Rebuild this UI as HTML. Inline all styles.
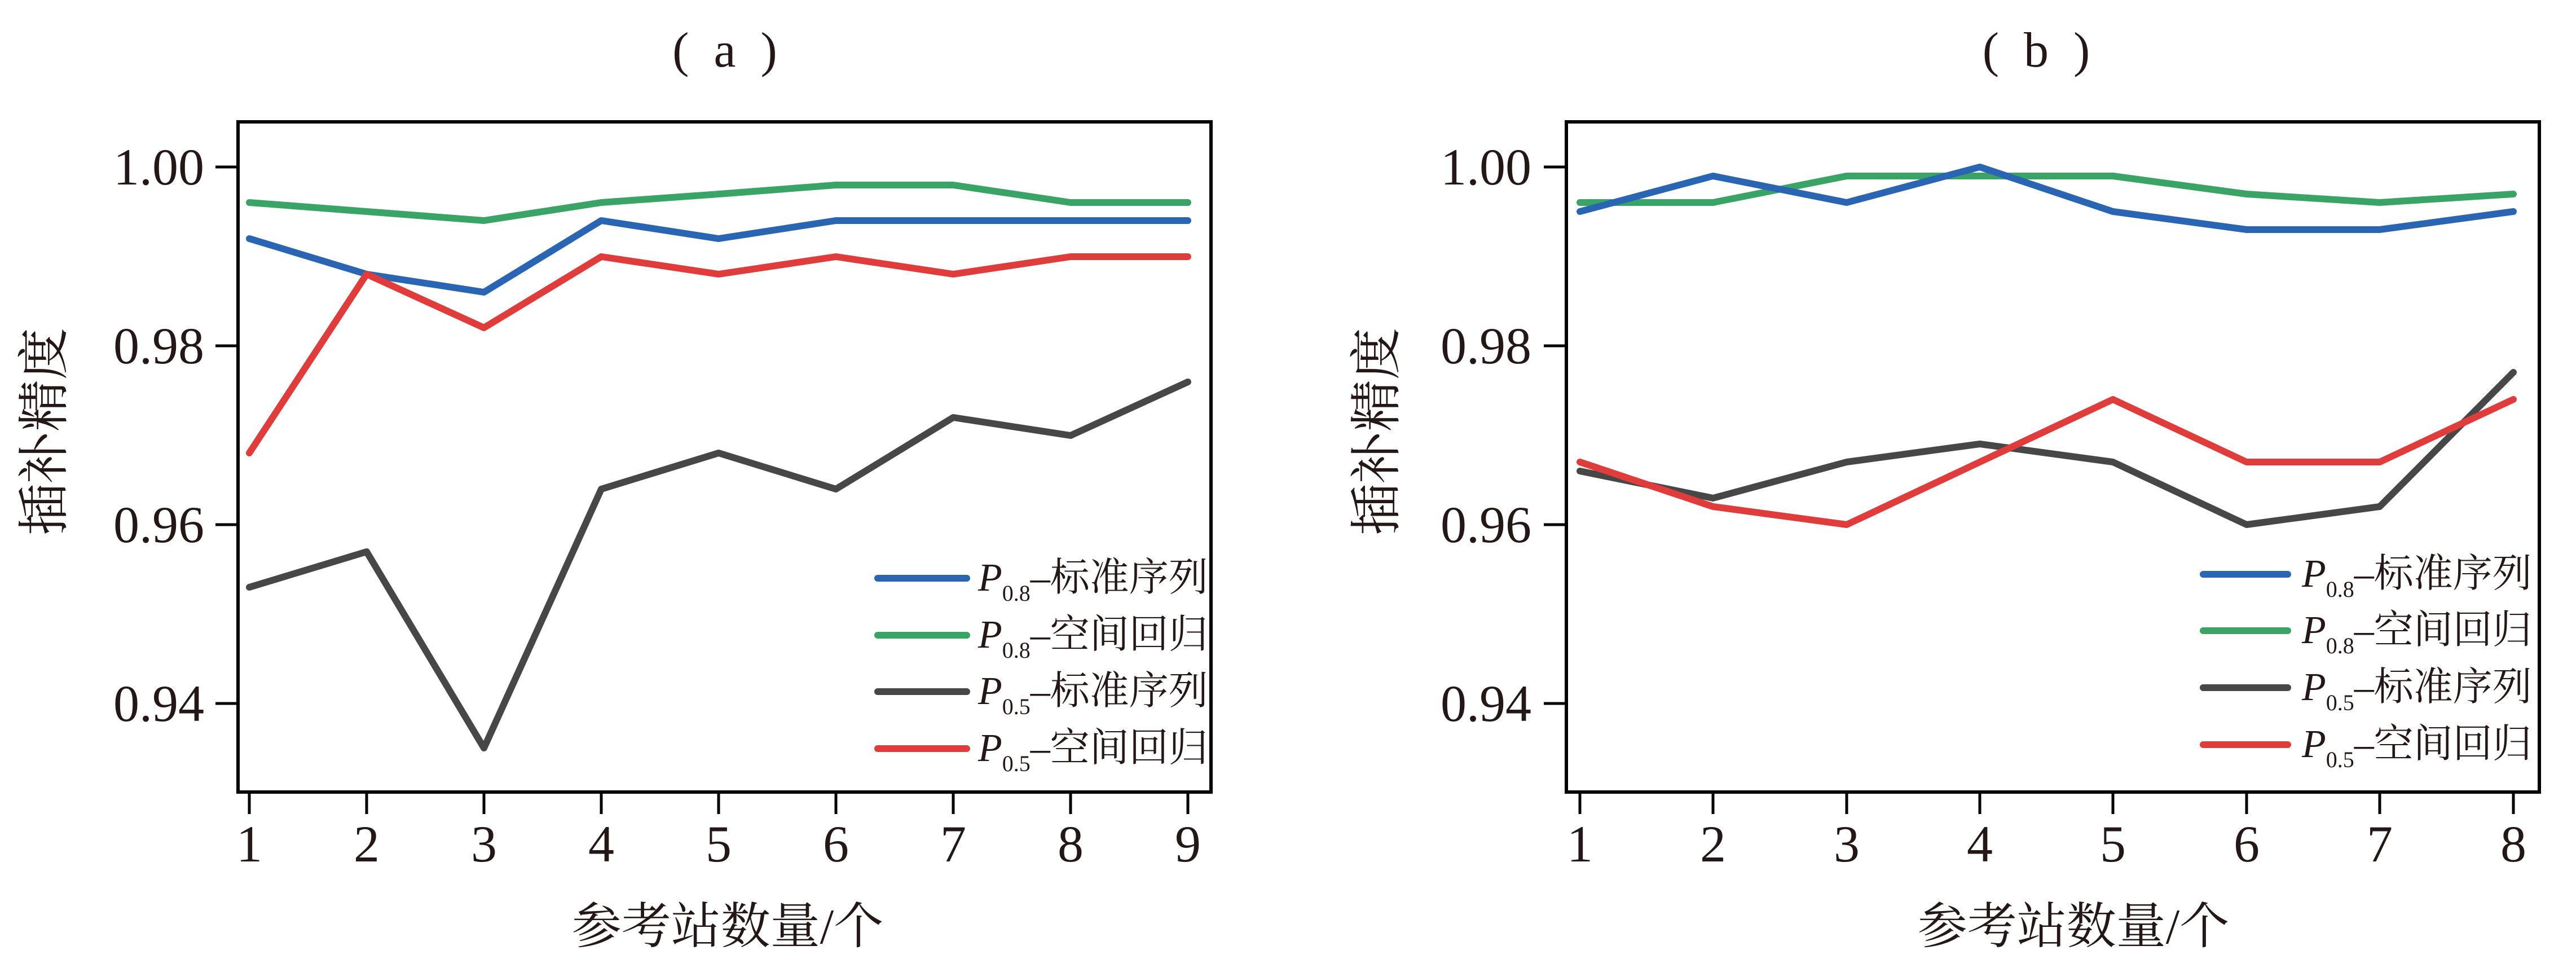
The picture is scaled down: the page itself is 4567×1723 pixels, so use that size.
<!DOCTYPE html>
<html><head><meta charset="utf-8"><style>
html,body{margin:0;padding:0;background:#fff;}
svg{display:block;}
text{fill:#231815;}
.num{font-family:"Liberation Serif",serif;}
.cjk{font-family:"Liberation Serif","Noto Serif CJK SC",serif;}
</style></head><body>
<svg width="4567" height="1723" viewBox="0 0 4567 1723" xmlns="http://www.w3.org/2000/svg">
<rect width="4567" height="1723" fill="#fff"/>

<!-- titles -->
<text class="num" x="1285" y="118" font-size="88" text-anchor="middle" xml:space="preserve">(  a  )</text>
<text class="num" x="3610" y="118" font-size="88" text-anchor="middle" xml:space="preserve">(  b  )</text>

<!-- ===== Panel A ===== -->
<g fill="none" stroke-linejoin="round" stroke-linecap="round" stroke-width="12">
<polyline stroke="#3aa366" points="442,359 650,375 858,391 1066,359 1274,344 1482,328 1690,328 1898,359 2106,359"/>
<polyline stroke="#2a65b3" points="442,423 650,486 858,518 1066,391 1274,423 1482,391 1690,391 1898,391 2106,391"/>
<polyline stroke="#e03c3c" points="442,803 650,486 858,581 1066,455 1274,486 1482,455 1690,486 1898,455 2106,455"/>
<polyline stroke="#474747" points="442,1041 650,978 858,1326 1066,867 1274,803 1482,867 1690,740 1898,772 2106,677"/>
</g>
<rect x="422" y="216" width="1725" height="1188" fill="none" stroke="#000" stroke-width="6"/>
<g stroke="#000" stroke-width="5">
<line x1="382" y1="296" x2="422" y2="296"/><line x1="382" y1="613" x2="422" y2="613"/>
<line x1="382" y1="930" x2="422" y2="930"/><line x1="382" y1="1247" x2="422" y2="1247"/>
<line x1="442" y1="1404" x2="442" y2="1443"/><line x1="650" y1="1404" x2="650" y2="1443"/>
<line x1="858" y1="1404" x2="858" y2="1443"/><line x1="1066" y1="1404" x2="1066" y2="1443"/>
<line x1="1274" y1="1404" x2="1274" y2="1443"/><line x1="1482" y1="1404" x2="1482" y2="1443"/>
<line x1="1690" y1="1404" x2="1690" y2="1443"/><line x1="1898" y1="1404" x2="1898" y2="1443"/>
<line x1="2106" y1="1404" x2="2106" y2="1443"/>
</g>
<g class="num" font-size="92" text-anchor="end">
<text x="362" y="327">1.00</text><text x="362" y="644">0.98</text>
<text x="362" y="961">0.96</text><text x="362" y="1278">0.94</text>
</g>
<g class="num" font-size="92" text-anchor="middle">
<text x="442" y="1527">1</text><text x="650" y="1527">2</text><text x="858" y="1527">3</text>
<text x="1066" y="1527">4</text><text x="1274" y="1527">5</text><text x="1482" y="1527">6</text>
<text x="1690" y="1527">7</text><text x="1898" y="1527">8</text><text x="2106" y="1527">9</text>
</g>
<text class="cjk" x="1290" y="1672" font-size="88" text-anchor="middle">参考站数量/个</text>
<text class="cjk" transform="translate(110,765) rotate(-90)" font-size="92" text-anchor="middle">插补精度</text>
<!-- legend A -->
<g stroke-width="12" stroke-linecap="round">
<line x1="1556" y1="1025" x2="1714" y2="1025" stroke="#2a65b3"/>
<line x1="1556" y1="1126" x2="1714" y2="1126" stroke="#3aa366"/>
<line x1="1556" y1="1226" x2="1714" y2="1226" stroke="#474747"/>
<line x1="1556" y1="1327" x2="1714" y2="1327" stroke="#e03c3c"/>
</g>
<g class="cjk" font-size="70">
<text x="1734" y="1047"><tspan font-style="italic">P</tspan><tspan font-size="40" dy="18">0.8</tspan><tspan dy="-18">–标准序列</tspan></text>
<text x="1734" y="1148"><tspan font-style="italic">P</tspan><tspan font-size="40" dy="18">0.8</tspan><tspan dy="-18">–空间回归</tspan></text>
<text x="1734" y="1248"><tspan font-style="italic">P</tspan><tspan font-size="40" dy="18">0.5</tspan><tspan dy="-18">–标准序列</tspan></text>
<text x="1734" y="1349"><tspan font-style="italic">P</tspan><tspan font-size="40" dy="18">0.5</tspan><tspan dy="-18">–空间回归</tspan></text>
</g>

<!-- ===== Panel B ===== -->
<g fill="none" stroke-linejoin="round" stroke-linecap="round" stroke-width="12">
<polyline stroke="#3aa366" points="2801,359 3037,359 3274,312 3510,312 3746,312 3983,344 4219,359 4456,344"/>
<polyline stroke="#2a65b3" points="2801,375 3037,312 3274,359 3510,296 3746,375 3983,407 4219,407 4456,375"/>
<polyline stroke="#474747" points="2801,835 3037,883 3274,819 3510,787 3746,819 3983,930 4219,898 4456,660"/>
<polyline stroke="#e03c3c" points="2801,819 3037,898 3274,930 3510,819 3746,708 3983,819 4219,819 4456,708"/>
</g>
<rect x="2777" y="216" width="1725" height="1188" fill="none" stroke="#000" stroke-width="6"/>
<g stroke="#000" stroke-width="5">
<line x1="2737" y1="296" x2="2777" y2="296"/><line x1="2737" y1="613" x2="2777" y2="613"/>
<line x1="2737" y1="930" x2="2777" y2="930"/><line x1="2737" y1="1247" x2="2777" y2="1247"/>
<line x1="2801" y1="1404" x2="2801" y2="1443"/><line x1="3037" y1="1404" x2="3037" y2="1443"/>
<line x1="3274" y1="1404" x2="3274" y2="1443"/><line x1="3510" y1="1404" x2="3510" y2="1443"/>
<line x1="3746" y1="1404" x2="3746" y2="1443"/><line x1="3983" y1="1404" x2="3983" y2="1443"/>
<line x1="4219" y1="1404" x2="4219" y2="1443"/><line x1="4456" y1="1404" x2="4456" y2="1443"/>
</g>
<g class="num" font-size="92" text-anchor="end">
<text x="2715" y="327">1.00</text><text x="2715" y="644">0.98</text>
<text x="2715" y="961">0.96</text><text x="2715" y="1278">0.94</text>
</g>
<g class="num" font-size="92" text-anchor="middle">
<text x="2801" y="1527">1</text><text x="3037" y="1527">2</text><text x="3274" y="1527">3</text>
<text x="3510" y="1527">4</text><text x="3746" y="1527">5</text><text x="3983" y="1527">6</text>
<text x="4219" y="1527">7</text><text x="4456" y="1527">8</text>
</g>
<text class="cjk" x="3676" y="1672" font-size="88" text-anchor="middle">参考站数量/个</text>
<text class="cjk" transform="translate(2472,765) rotate(-90)" font-size="92" text-anchor="middle">插补精度</text>
<!-- legend B -->
<g stroke-width="12" stroke-linecap="round">
<line x1="3906" y1="1018" x2="4056" y2="1018" stroke="#2a65b3"/>
<line x1="3906" y1="1118" x2="4056" y2="1118" stroke="#3aa366"/>
<line x1="3906" y1="1219" x2="4056" y2="1219" stroke="#474747"/>
<line x1="3906" y1="1320" x2="4056" y2="1320" stroke="#e03c3c"/>
</g>
<g class="cjk" font-size="70">
<text x="4081" y="1040"><tspan font-style="italic">P</tspan><tspan font-size="40" dy="18">0.8</tspan><tspan dy="-18">–标准序列</tspan></text>
<text x="4081" y="1140"><tspan font-style="italic">P</tspan><tspan font-size="40" dy="18">0.8</tspan><tspan dy="-18">–空间回归</tspan></text>
<text x="4081" y="1241"><tspan font-style="italic">P</tspan><tspan font-size="40" dy="18">0.5</tspan><tspan dy="-18">–标准序列</tspan></text>
<text x="4081" y="1342"><tspan font-style="italic">P</tspan><tspan font-size="40" dy="18">0.5</tspan><tspan dy="-18">–空间回归</tspan></text>
</g>
</svg>
</body></html>
